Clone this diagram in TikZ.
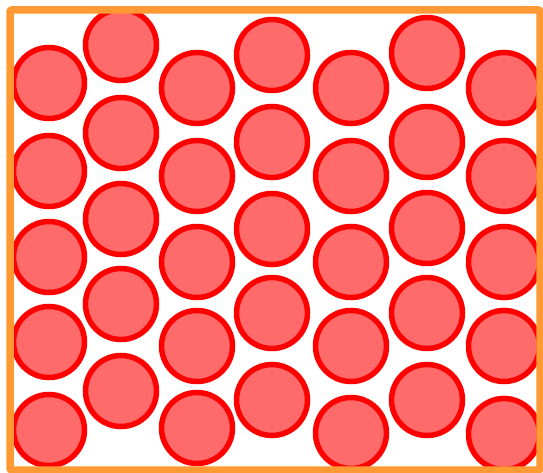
\documentclass[tikz,border=0pt]{standalone}
\usepackage{tikz}
\usetikzlibrary{positioning}
\definecolor{ballFill}{RGB}{255,107,107}
\definecolor{boxOrange}{RGB}{255,153,51}
\tikzset{
	ball/.style={circle, draw=red, fill=ballFill, line width=5.5pt,
		minimum size=71pt, inner sep=0pt},
	frame/.style={rectangle, draw=boxOrange, line width=7.5pt, rounded corners=2pt,
		minimum width=530pt, minimum height=460pt, inner sep=0pt}
}
\begin{document}
\begin{tikzpicture}[x=1pt, y=-1pt]
	\useasboundingbox (0,0) rectangle (543,473);
	% columns of balls: x / five y positions
	\foreach \col/\x/\ya/\yb/\yc/\yd/\ye in {
		1/49/83/171/257/342/430,
		2/121/45/133/219/304/391,
		3/197/88/176/262/346/428,
		4/272/55/142/229/313/400,
		5/351/88/176/262/346/433,
		6/427/53/142/228/313/400,
		7/504/88/176/262/346/434}{
		\foreach \row/\y in {1/\ya, 2/\yb, 3/\yc, 4/\yd, 5/\ye}
			\node[ball] (ball-\col-\row) at (\x,\y) {};
	}
	\node[frame] (box) at (275,240) {};
\end{tikzpicture}
\end{document}
